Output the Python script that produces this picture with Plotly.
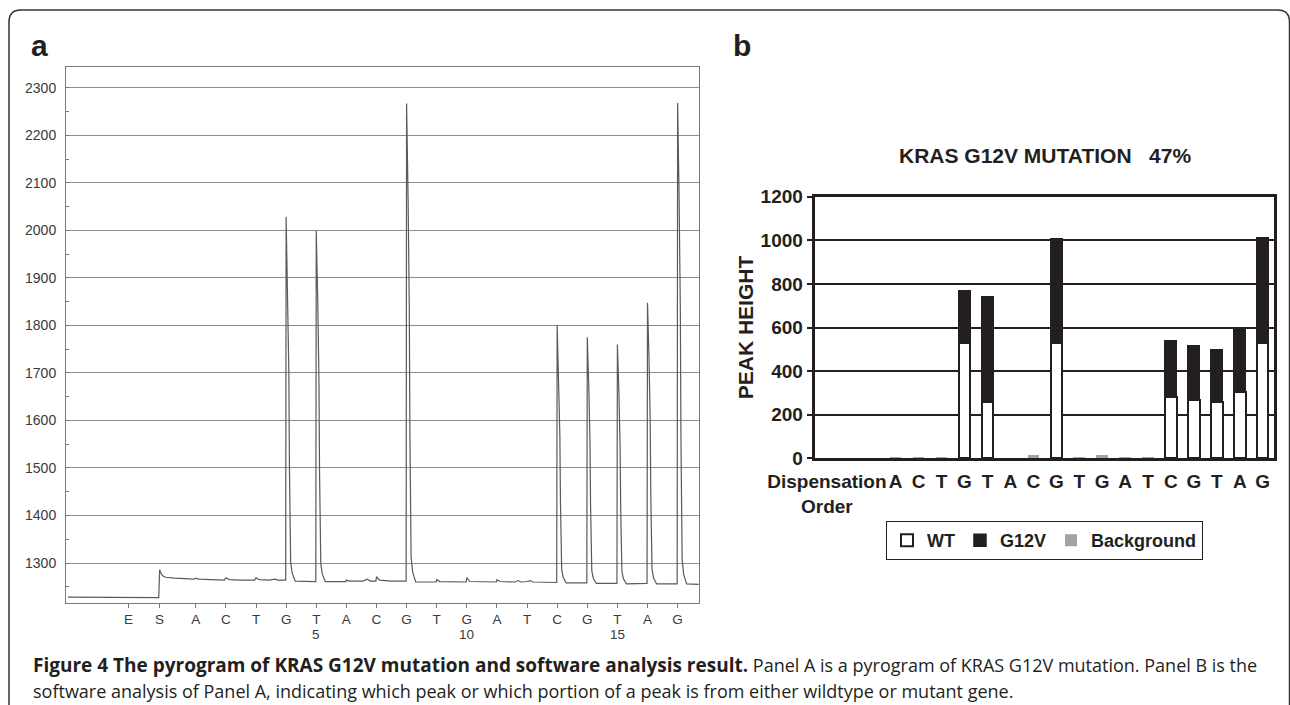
import plotly.graph_objects as go

W, H = 1290, 705

# ---------------- Panel a : pyrogram trace ----------------
pyro_ticks = [-1.237, -0.208, 1, 2, 3, 4, 5, 6, 7, 8, 9, 10, 11, 12, 13, 14, 15, 16, 17]
pyro_labels = ["E", "S", "A", "C", "T", "G", "T", "A", "C", "G", "T", "G", "A", "T", "C", "G", "T", "A", "G"]
pyro_numbers = {5: "5", 10: "10", 15: "15"}

trace_x = [
    -3.25, -0.23, -0.20, -0.17, -0.10, 0.00, 0.30, 0.60, 0.95, 1.00, 1.10, 1.50, 1.95, 2.00, 2.10,
    2.50, 2.95, 3.00, 3.10, 3.45, 3.63, 3.72, 3.985,
    4.00, 4.05, 4.09, 4.11, 4.15, 4.20, 4.30, 4.985,
    5.00, 5.05, 5.09, 5.11, 5.15, 5.20, 5.30, 5.98, 6.00, 6.10, 6.55, 6.69, 6.80, 6.98, 7.00, 7.10,
    7.50, 7.985,
    8.00, 8.05, 8.09, 8.11, 8.15, 8.20, 8.30, 8.98, 9.00, 9.10, 9.98, 10.00, 10.10, 10.98, 11.00,
    11.10, 11.60, 11.70, 11.80, 12.00, 12.10, 12.20, 12.985,
    13.00, 13.05, 13.09, 13.11, 13.15, 13.20, 13.30, 13.985,
    14.00, 14.05, 14.09, 14.11, 14.15, 14.20, 14.30, 14.985,
    15.00, 15.05, 15.09, 15.11, 15.15, 15.20, 15.30, 15.985,
    16.00, 16.05, 16.09, 16.11, 16.15, 16.20, 16.30, 16.985,
    17.00, 17.05, 17.09, 17.11, 17.15, 17.20, 17.30, 17.70,
]
trace_y = [
    1228, 1227, 1286, 1280, 1273, 1270, 1268, 1267, 1266, 1268, 1266, 1265, 1264, 1269, 1265,
    1264, 1264, 1269, 1265, 1264, 1266, 1264, 1264,
    2029, 1876, 1700, 1501, 1302, 1279, 1262, 1261,
    1999, 1852, 1682, 1490, 1299, 1277, 1261, 1261, 1264, 1262, 1262, 1266, 1262, 1262, 1271, 1264,
    1262, 1262,
    2267, 2066, 1835, 1574, 1312, 1282, 1260, 1260, 1265, 1261, 1260, 1269, 1261, 1260, 1265,
    1261, 1260, 1263, 1260, 1261, 1263, 1260, 1259,
    1801, 1693, 1568, 1427, 1286, 1270, 1258, 1258,
    1775, 1672, 1553, 1418, 1284, 1268, 1257, 1257,
    1760, 1660, 1544, 1413, 1282, 1267, 1256, 1257,
    1848, 1730, 1594, 1440, 1287, 1269, 1256, 1256,
    2268, 2066, 1833, 1570, 1307, 1276, 1256, 1255,
]
pyro_yticks = [1300, 1400, 1500, 1600, 1700, 1800, 1900, 2000, 2100, 2200, 2300]

# ---------------- Panel b : software analysis bars ----------------
dispensation = ["A", "C", "T", "G", "T", "A", "C", "G", "T", "G", "A", "T", "C", "G", "T", "A", "G"]
wt_values = [0, 0, 0, 527, 257, 0, 0, 528, 0, 0, 0, 0, 281, 266, 257, 303, 527]
g12v_values = [0, 0, 0, 243, 486, 0, 0, 481, 0, 0, 0, 0, 260, 252, 243, 289, 487]
background_values = [7, 7, 7, 0, 0, 0, 16, 0, 8, 14, 6, 6, 0, 0, 0, 0, 0]
bar_yticks = [0, 200, 400, 600, 800, 1000, 1200]
chart_title = "KRAS G12V MUTATION   47%"

caption_bold = "Figure 4 The pyrogram of KRAS G12V mutation and software analysis result."
caption_line1 = "Panel A is a pyrogram of KRAS G12V mutation. Panel B is the"
caption_line2 = ("software analysis of Panel A, indicating which peak or which portion of a peak is from "
                 "either wildtype or mutant gene.")

bar_pos = list(range(3, 3 + len(dispensation)))


def nz(vals):
    return [v if v else None for v in vals]


def px_x(p):
    return p / W


def px_y(p):
    return 1 - p / H


fig = go.Figure()

fig.add_trace(go.Scatter(
    x=trace_x, y=trace_y, mode="lines",
    line=dict(color="#5a5a5a", width=1.2),
    showlegend=False, xaxis="x", yaxis="y", hoverinfo="skip",
))

fig.add_trace(go.Bar(
    x=bar_pos, y=nz(wt_values), name="WT", width=0.5,
    marker=dict(color="white", line=dict(color="#231f20", width=2)),
    xaxis="x2", yaxis="y2",
))
fig.add_trace(go.Bar(
    x=bar_pos, y=nz(g12v_values), name="G12V", width=0.5,
    marker=dict(color="#231f20", line=dict(color="#231f20", width=1.5)),
    xaxis="x2", yaxis="y2",
))
fig.add_trace(go.Bar(
    x=bar_pos, y=nz(background_values), name="Background", width=0.5,
    marker=dict(color="#a3a3a3", line=dict(width=0)),
    xaxis="x2", yaxis="y2",
))

FAM = "Liberation Sans, Arial, sans-serif"
font_a = dict(family=FAM, size=14, color="#3a3a3a")
font_ax = dict(family=FAM, size=13.5, color="#3a3a3a")
font_b = dict(family=FAM, size=19, color="#231f20", weight="bold")

fig.update_layout(
    width=W, height=H,
    margin=dict(l=0, r=0, t=0, b=0),
    paper_bgcolor="white", plot_bgcolor="white",
    barmode="stack",
    xaxis=dict(
        domain=[px_x(66), px_x(699)], range=[-3.31, 17.71],
        tickvals=pyro_ticks, ticktext=pyro_labels, tickangle=0,
        showgrid=False, zeroline=False,
        showline=True, mirror=True, linecolor="#7a7a7a", linewidth=1,
        ticks="outside", ticklen=4, tickcolor="#7a7a7a", tickwidth=1,
        tickfont=font_ax, automargin=False, anchor="y",
        ticklabelstandoff=0,
    ),
    yaxis=dict(
        domain=[px_y(603), px_y(67)], range=[1215.8, 2344],
        tickvals=pyro_yticks, showgrid=True, gridcolor="#8c8c8c", gridwidth=1.2,
        zeroline=False, showline=True, mirror=True, linecolor="#7a7a7a", linewidth=1,
        ticks="", tickfont=font_a, automargin=False, anchor="x",
        minor=dict(dtick=50, tick0=1250, ticks="inside", ticklen=3, tickcolor="#7a7a7a", showgrid=False),
        ticklabelstandoff=6,
    ),
    xaxis2=dict(
        domain=[px_x(815.4), px_x(1274.2)], range=[-0.5, 19.5],
        tickvals=[0] + bar_pos, ticktext=["Dispensation<br>Order"] + dispensation, tickangle=0,
        showgrid=False, zeroline=False,
        showline=True, mirror=True, linecolor="#231f20", linewidth=2.5,
        ticks="", tickfont=font_b, automargin=False, anchor="y2",
        ticklabelstandoff=4,
    ),
    yaxis2=dict(
        domain=[px_y(458.3), px_y(196.7)], range=[0, 1200],
        tickvals=bar_yticks, showgrid=True, gridcolor="#231f20", gridwidth=1.5,
        zeroline=False, showline=True, mirror=True, linecolor="#231f20", linewidth=2.5,
        ticks="outside", ticklen=6, tickcolor="#231f20", tickwidth=1.5,
        tickfont=font_b, automargin=False, anchor="x2",
        title=dict(text="PEAK HEIGHT", font=dict(family=FAM, size=21, color="#231f20", weight="bold"),
                   standoff=2),
    ),
    legend=dict(
        orientation="h", x=px_x(886), y=px_y(521), xanchor="left", yanchor="top",
        bordercolor="#231f20", borderwidth=1, bgcolor="white",
        font=dict(family=FAM, size=18, color="#231f20", weight="bold"),
        itemwidth=30, traceorder="normal",
    ),
)

annotations = [
    dict(text="a", x=px_x(29), y=px_y(46), xanchor="left", yanchor="middle",
         font=dict(family=FAM, size=30, color="#231f20", weight="bold")),
    dict(text="b", x=px_x(731), y=px_y(46), xanchor="left", yanchor="middle",
         font=dict(family=FAM, size=30, color="#231f20", weight="bold")),
    dict(text=chart_title, x=px_x(1045), y=px_y(155), xanchor="center", yanchor="middle",
         font=dict(family=FAM, size=21, color="#231f20", weight="bold")),
    dict(text=f"<b><span style='font-size:19px'>{caption_bold}</span></b> {caption_line1}",
         x=px_x(31), y=px_y(665), xanchor="left", yanchor="middle",
         font=dict(family="Open Sans, sans-serif", size=18, color="#231f20")),
    dict(text=caption_line2,
         x=px_x(31), y=px_y(691), xanchor="left", yanchor="middle",
         font=dict(family="Open Sans, sans-serif", size=18, color="#231f20")),
]
for k, lab in pyro_numbers.items():
    annotations.append(dict(text=lab, x=k, xref="x", y=px_y(634), yref="paper",
                            xanchor="center", yanchor="middle", showarrow=False, font=font_ax))
for a in annotations:
    a.setdefault("xref", "paper")
    a.setdefault("yref", "paper")
    a.setdefault("showarrow", False)
fig.update_layout(annotations=annotations)

# outer rounded frame
r = 12
x0, y0, x1 = 9, 10, 1289.5
path = (f"M {px_x(x0)},{px_y(H + 2)} L {px_x(x0)},{px_y(y0 + r)} "
        f"Q {px_x(x0)},{px_y(y0)} {px_x(x0 + r)},{px_y(y0)} "
        f"L {px_x(x1 - r)},{px_y(y0)} Q {px_x(x1)},{px_y(y0)} {px_x(x1)},{px_y(y0 + r)} "
        f"L {px_x(x1)},{px_y(H + 2)}")
fig.add_shape(type="path", path=path, xref="paper", yref="paper",
              line=dict(color="#333333", width=1.5))

fig.write_html("out.html")
